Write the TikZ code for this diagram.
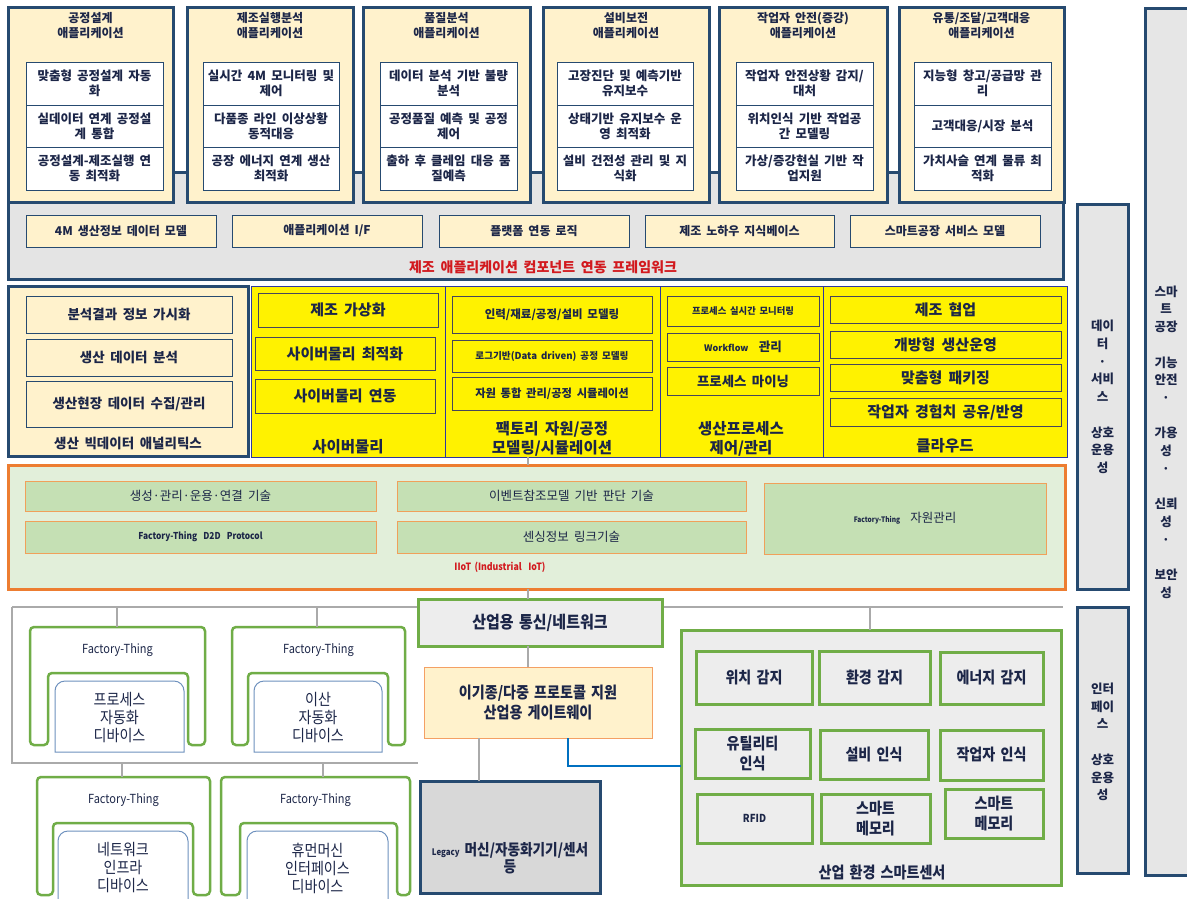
\documentclass[tikz,border=0pt]{standalone}
\usepackage{fontspec}
\setmainfont[WordSpace=1.8]{Noto Sans CJK KR}
\newfontfamily\condfont[FakeStretch=0.88,WordSpace=1.6]{Noto Sans CJK KR}

\definecolor{navy}{RGB}{38,74,112}
\definecolor{beige}{RGB}{255,242,204}
\definecolor{fwgray}{RGB}{228,228,228}
\definecolor{ink}{RGB}{28,38,72}
\definecolor{redtxt}{RGB}{210,25,30}
\definecolor{yline}{RGB}{45,55,160}
\definecolor{yitem}{RGB}{70,70,90}
\definecolor{iotor}{RGB}{237,125,49}
\definecolor{iotbg}{RGB}{226,239,218}
\definecolor{iotbox}{RGB}{197,224,180}
\definecolor{iotline}{RGB}{240,160,90}
\definecolor{grn}{RGB}{112,173,71}
\definecolor{lgray}{RGB}{237,237,237}
\definecolor{lnk}{RGB}{170,170,170}
\definecolor{devblue}{RGB}{110,145,190}
\definecolor{gwor}{RGB}{244,160,100}
\definecolor{legacy}{RGB}{216,216,216}
\definecolor{blueln}{RGB}{0,112,192}
\definecolor{sidegray}{RGB}{230,230,230}

\newcommand{\fs}[2]{\fontsize{#1}{#2}\selectfont}
% box from top-left (#2,#3) to bottom-right (#4,#5), named #6
\newcommand{\cell}[6][]{%
  \node[#1, anchor=north west, inner sep=1pt, outer sep=0pt,
        minimum width={(#4-#2)*1pt}, minimum height={(#5-#3)*1pt}] (#6) at (#2,#3)}

\tikzset{
	appbox/.style={fill=beige, draw=navy, line width=3pt},
	apptitle/.style={font=\bfseries\fs{12}{15}},
	itembox/.style={fill=white, draw=navy, line width=0.9pt, font=\bfseries\fs{12.5}{15}},
	fwbox/.style={fill=fwgray, draw=navy, line width=3pt},
	compbox/.style={fill=beige, draw=navy, line width=1pt, font=\bfseries\fs{12}{14}},
	redlabel/.style={text=redtxt, font=\bfseries\fs{14}{16}},
	ysec/.style={fill=yellow, draw=yline, line width=0.8pt},
	yitembox/.style={draw=yitem, line width=0.9pt, font=\bfseries\fs{15}{17}},
	ylabel/.style={font=\bfseries\fs{15.5}{18.5}},
	iotbig/.style={fill=iotbg, draw=iotor, line width=3pt},
	iotitem/.style={fill=iotbox, draw=iotline, line width=1pt, font=\fs{12.5}{15}},
	sensor/.style={fill=lgray, draw=grn, line width=3pt, font=\condfont\bfseries\fs{16}{20}},
	sidebox/.style={fill=sidegray, draw=navy, line width=3pt},
	sidetext/.style={font=\bfseries\fs{12.5}{17.7}},
	link/.style={draw=lnk, line width=2pt},
	ftline/.style={draw=grn, line width=2.5pt, rounded corners=4pt},
	devline/.style={draw=devblue, line width=1pt},
	fttitle/.style={font=\condfont\fs{12.5}{15}},
	devtext/.style={font=\condfont\fs{16}{18}},
}

\begin{document}
\begin{tikzpicture}[x=1pt, y=-1pt, every node/.style={text=ink, align=center}]
	\useasboundingbox[fill=white] (0,0) rectangle (1187,898);

	% ====== side boxes ========
	\cell[sidebox]{1145}{8}{1192}{875}{sfbox} {};
	\node[sidetext] (sftxt) at (1166,442) {스마\\트\\공장\\[17.7pt]기능\\안전\\·\\[17.7pt]가용\\성\\·\\[17.7pt]신뢰\\성\\·\\[17.7pt]보안\\성};
	\cell[sidebox]{1077}{204}{1128}{589}{dsbox} {};
	\node[sidetext] (dstxt) at (1102.5,397) {데이\\터\\·\\서비\\스\\[17.7pt]상호\\운용\\성};
	\cell[sidebox]{1077}{607}{1128}{873}{ifbox} {};
	\node[sidetext] (iftxt) at (1102.5,742) {인터\\페이\\스\\[17.7pt]상호\\운용\\성};

	% ====== framework ========
	\cell[fwbox]{8}{172}{1063}{279}{fw} {};
	\foreach \n/\xa/\xb/\txt in {1/26/216/{4M 생산정보 데이터 모델}, 2/232/422/{애플리케이션 I/F},
		3/439/629/{플랫폼 연동 로직}, 4/645/834/{제조 노하우 지식베이스}, 5/850/1040/{스마트공장 서비스 모델}}
		{\cell[compbox]{\xa}{215}{\xb}{247}{comp\n} {\txt};}
	\node[redlabel] (fwlabel) at (543,267) {제조 애플리케이션 컴포넌트 연동 프레임워크};

	% ====== applications ========
	\foreach \n/\xa/\xb/\ia/\ib/\ttl/\ra/\rb/\rc in {
		1/8/173/26/163/{공정설계\\애플리케이션}/{맞춤형 공정설계 자동\\화}/{실데이터 연계 공정설\\계 통합}/{공정설계-제조실행 연\\동 최적화},
		2/187/353/203/339/{제조실행분석\\애플리케이션}/{실시간 4M 모니터링 및\\제어}/{다품종 라인 이상상황\\동적대응}/{공장 에너지 연계 생산\\최적화},
		3/363/530/380/517/{품질분석\\애플리케이션}/{데이터 분석 기반 불량\\분석}/{공정품질 예측 및 공정\\제어}/{출하 후 클레임 대응 품\\질예측},
		4/543/709/557/693/{설비보전\\애플리케이션}/{고장진단 및 예측기반\\유지보수}/{상태기반 유지보수 운\\영 최적화}/{설비 건전성 관리 및 지\\식화},
		5/719/887/736/873/{작업자 안전(증강)\\애플리케이션}/{작업자 안전상황 감지/\\대처}/{위치인식 기반 작업공\\간 모델링}/{가상/증강현실 기반 작\\업지원},
		6/899/1064/914/1051/{유통/조달/고객대응\\애플리케이션}/{지능형 창고/공급망 관\\리}/{고객대응/시장 분석}/{가치사슬 연계 물류 최\\적화}}
	{
		\cell[appbox]{\xa}{7}{\xb}{202}{app\n} {};
		\node[apptitle] (app\n-t) at ({(\xa+\xb)/2},26) {\ttl};
		\cell[itembox]{\ia}{62}{\ib}{105}{app\n-a} {\ra};
		\cell[itembox]{\ia}{105}{\ib}{147}{app\n-b} {\rb};
		\cell[itembox]{\ia}{147}{\ib}{190}{app\n-c} {\rc};
	}

	% ====== big data ========
	\cell[appbox]{8}{286}{248}{456}{bigdata} {};
	\cell[compbox, font=\bfseries\fs{13.5}{16}]{26}{296}{232}{333}{bd1} {분석결과 정보 가시화};
	\cell[compbox, font=\bfseries\fs{13.5}{16}]{26}{339}{232}{376}{bd2} {생산 데이터 분석};
	\cell[compbox, font=\bfseries\fs{13.5}{16}]{26}{381}{232}{427}{bd3} {생산현장 데이터 수집/관리};
	\node[font=\bfseries\fs{13.5}{16}] (bdlabel) at (128,443) {생산 빅데이터 애널리틱스};

	% ====== cyber-physical / factory / process / cloud ========
	\cell[ysec]{251}{286}{445}{457}{cps} {};
	\cell[ysec]{445}{286}{660}{457}{fac} {};
	\cell[ysec]{660}{286}{823}{457}{proc} {};
	\cell[ysec]{823}{286}{1067}{457}{cloud} {};

	\cell[yitembox]{258}{293}{438}{327}{cps1} {제조 가상화};
	\cell[yitembox]{255}{337}{435}{370}{cps2} {사이버물리 최적화};
	\cell[yitembox]{255}{379}{435}{413}{cps3} {사이버물리 연동};
	\node[ylabel] (cpslabel) at (348,447) {사이버물리};

	\cell[yitembox, font=\bfseries\fs{11.5}{13}]{452}{296}{652}{333}{fac1} {인력/재료/공정/설비 모델링};
	\cell[yitembox, font=\bfseries\fs{9.6}{12}]{452}{340}{652}{372}{fac2} {로그기반(Data driven) 공정 모델링};
	\cell[yitembox, font=\bfseries\fs{11.3}{13}]{452}{377}{652}{410}{fac3} {자원 통합 관리/공정 시뮬레이션};
	\node[ylabel] (faclabel) at (552,439) {팩토리 자원/공정\\모델링/시뮬레이션};

	\cell[yitembox, font=\bfseries\fs{9.3}{11}]{667}{296}{819}{326}{proc1} {프로세스 실시간 모니터링};
	\cell[yitembox, font=\bfseries\fs{12.5}{14}]{667}{333}{819}{361}{proc2} {{\fs{9}{10}Workflow}\ \ 관리};
	\cell[yitembox, font=\bfseries\fs{13.4}{15}]{667}{367}{819}{395}{proc3} {프로세스 마이닝};
	\node[ylabel] (proclabel) at (741,439) {생산프로세스\\제어/관리};

	\cell[yitembox]{830}{296}{1061}{323}{cl1} {제조 협업};
	\cell[yitembox]{830}{331}{1061}{358}{cl2} {개방형 생산운영};
	\cell[yitembox]{830}{364}{1061}{391}{cl3} {맞춤형 패키징};
	\cell[yitembox]{830}{398}{1061}{426}{cl4} {작업자 경험치 공유/반영};
	\node[ylabel] (cllabel) at (945,446) {클라우드};

	% ====== IIoT ========
	\cell[iotbig]{8}{465}{1065}{589}{iiot} {};
	\cell[iotitem]{25}{481}{376}{511}{iot1} {생성·관리·운용·연결 기술};
	\cell[iotitem, font=\condfont\bfseries\fs{9.5}{11}]{25}{521}{376}{553}{iot2} {Factory-Thing\ \ D2D\ \ Protocol};
	\cell[iotitem]{397}{481}{746}{511}{iot3} {이벤트참조모델 기반 판단 기술};
	\cell[iotitem]{397}{521}{746}{553}{iot4} {센싱정보 링크기술};
	\cell[iotitem]{764}{483}{1046}{554}{iot5} {{\condfont\bfseries\fs{7.5}{9}Factory-Thing}\ \ 자원관리};
	\node[text=redtxt, font=\condfont\bfseries\fs{10}{12}] (iotlabel) at (500,567) {IIoT (Industrial\ \ IoT)};

	% ====== field network ========
	\coordinate (busL) at (12,607);
	\coordinate (busR) at (1063,607);
	\coordinate (busB) at (418,763);
	\coordinate (trunk) at (528,0);
	\draw[link] (busL) -- (busR);
	\draw[link] (busL) -- (busL |- busB) -- (busB);
	\draw[link] (fac.south -| trunk) -- (iiot.north -| trunk);

	\cell[fill=lgray, draw=grn, line width=3pt, font=\condfont\bfseries\fs{17}{19}]{418}{599}{662}{646}{net} {산업용 통신/네트워크};
	\draw[link] (iiot.south -| trunk) -- (net.north -| trunk);
	\cell[fill=beige, draw=gwor, line width=1pt, font=\condfont\bfseries\fs{16}{20}]{424}{667}{652}{738}{gw} {이기종/다중 프로토콜 지원\\산업용 게이트웨이};
	\draw[link] (net.south -| gw.north) ++(-10,0) coordinate (nl) -- (nl |- gw.north);
	\cell[fill=legacy, draw=navy, line width=3pt]{420}{781}{600}{893}{legacy} {};
	\node[font=\condfont\bfseries\fs{15.5}{17}] (legtxt) at (510,858) {{\fs{9}{10}Legacy}\ 머신/자동화기기/센서\\등};
	\coordinate (gl) at (479,0);
	\draw[link] (gw.south -| gl) -- (legacy.north -| gl);

	% ====== smart sensors ========
	\cell[fill=lgray, draw=grn, line width=3pt]{681}{630}{1061}{885}{sens} {};
	\draw[link] (sens.north -| 870,0) -- (busR -| 870,0);
	\coordinate (gb) at (568,766);
	\draw[blueln, line width=1.5pt] (gw.south -| gb) -- (gb) -- (gb -| sens.west);
	\cell[sensor]{696}{651}{812}{704}{s1} {위치 감지};
	\cell[sensor]{819}{651}{930}{704}{s2} {환경 감지};
	\cell[sensor]{940}{652}{1043}{704}{s3} {에너지 감지};
	\cell[sensor]{695}{729}{810}{778}{s4} {유틸리티\\인식};
	\cell[sensor]{820}{730}{928}{779}{s5} {설비 인식};
	\cell[sensor]{940}{730}{1043}{780}{s6} {작업자 인식};
	\cell[sensor, font=\condfont\bfseries\fs{11}{13}]{697}{794}{812}{843}{s7} {RFID};
	\cell[sensor]{821}{794}{930}{843}{s8} {스마트\\메모리};
	\cell[sensor]{945}{789}{1043}{838}{s9} {스마트\\메모리};
	\node[font=\condfont\bfseries\fs{16}{18}] (senslabel) at (882,872) {산업 환경 스마트센서};

	% ====== Factory-Things ========
	\foreach \n/\xa/\xb/\ia/\ib/\yt/\yb/\da/\dc/\sx/\sy/\txt in {
		1/30/205/48/188/627/745/55/184/117/607/{프로세스\\자동화\\디바이스},
		2/232/405/248/388/627/745/254/382/317/607/{이산\\자동화\\디바이스},
		3/37/210/53/193/777/895/58/188/122/763/{네트워크\\인프라\\디바이스},
		4/221/410/240/397/777/895/247/388/323/763/{휴먼머신\\인터페이스\\디바이스}}
	{
		\draw[ftline] (\xa,\yb) -- (\xa,\yt) -- (\xb,\yt) -- (\xb,\yb) -- (\ib,\yb)
			-- (\ib,\yt+46) -- (\ia,\yt+46) -- (\ia,\yb) -- cycle;
		\draw[devline] (\da,\yb+7) [rounded corners=10pt] -- (\da,\yt+54) -- (\dc,\yt+54) [sharp corners] -- (\dc,\yb+7) -- cycle;
		\node[fttitle] (ft\n-t) at ({(\xa+\xb)/2},\yt+23) {Factory-Thing};
		\node[devtext] (ft\n-d) at ({(\da+\dc)/2},\yt+91) {\txt};
		\coordinate (ft\n-top) at (\sx,\yt);
		\draw[link] (ft\n-top) -- (\sx,\sy);
	}

\end{tikzpicture}
\end{document}
